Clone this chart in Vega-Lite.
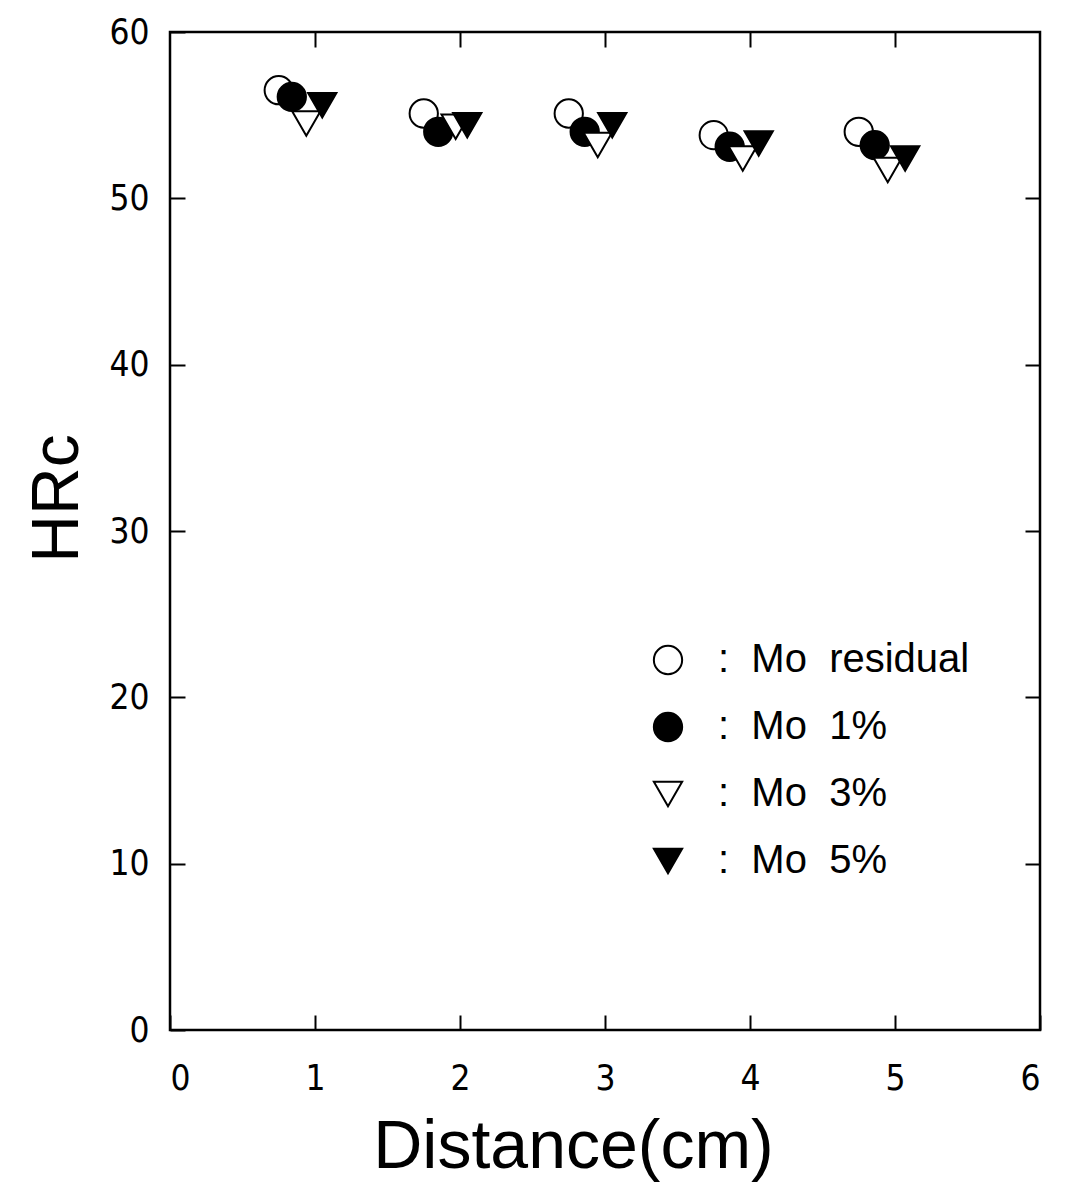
{
  "$schema": "https://vega.github.io/schema/vega-lite/v6.json",
  "width": 870,
  "height": 998,
  "autosize": "none",
  "padding": {"left": 170, "top": 32, "right": 25, "bottom": 153},
  "background": "white",
  "config": {
    "view": {"stroke": "black", "strokeWidth": 2.5},
    "font": "Liberation Sans",
    "axis": {"grid": false, "domain": false, "tickColor": "black", "tickWidth": 2, "tickSize": -15, "labelColor": "black", "titleColor": "black", "labelFont": "'DejaVu Sans Condensed', 'Liberation Sans'", "labelFontSize": 35, "titleFont": "Liberation Sans", "titleFontWeight": "normal"},
    "legend": {"title": null, "orient": "none", "legendX": 478, "legendY": 608, "labelFontSize": 40, "labelFont": "Liberation Sans", "labelColor": "black", "labelLimit": 600, "symbolSize": 800, "symbolStrokeColor": "black", "symbolStrokeWidth": 2, "symbolOpacity": 1, "rowPadding": 27, "labelOffset": 30}
  },
  "data": {
    "values": [
      {"series": "Mo residual", "distance": 0.75, "hrc": 56.5},
      {"series": "Mo residual", "distance": 1.75, "hrc": 55.1},
      {"series": "Mo residual", "distance": 2.75, "hrc": 55.1},
      {"series": "Mo residual", "distance": 3.75, "hrc": 53.8},
      {"series": "Mo residual", "distance": 4.75, "hrc": 54.0},
      {"series": "Mo 1%", "distance": 0.84, "hrc": 56.1},
      {"series": "Mo 1%", "distance": 1.85, "hrc": 54.0},
      {"series": "Mo 1%", "distance": 2.86, "hrc": 54.0},
      {"series": "Mo 1%", "distance": 3.86, "hrc": 53.1},
      {"series": "Mo 1%", "distance": 4.86, "hrc": 53.2},
      {"series": "Mo 3%", "distance": 0.94, "hrc": 54.5},
      {"series": "Mo 3%", "distance": 1.97, "hrc": 54.3},
      {"series": "Mo 3%", "distance": 2.95, "hrc": 53.2},
      {"series": "Mo 3%", "distance": 3.95, "hrc": 52.4},
      {"series": "Mo 3%", "distance": 4.95, "hrc": 51.7},
      {"series": "Mo 5%", "distance": 1.05, "hrc": 55.6},
      {"series": "Mo 5%", "distance": 2.05, "hrc": 54.4},
      {"series": "Mo 5%", "distance": 3.05, "hrc": 54.4},
      {"series": "Mo 5%", "distance": 4.06, "hrc": 53.3},
      {"series": "Mo 5%", "distance": 5.07, "hrc": 52.4}
    ]
  },
  "layer": [
    {
      "mark": {"type": "point", "filled": true, "strokeWidth": 2, "size": 800, "opacity": 1},
      "encoding": {
        "x": {"field": "distance", "type": "quantitative", "scale": {"domain": [0, 6], "nice": false}, "axis": {"values": [0, 1, 2, 3, 4, 5, 6], "title": "Distance(cm)", "titleFontSize": 68, "labelPadding": 46, "titleX": 403, "titleY": 137, "titleBaseline": "alphabetic", "titleAlign": "center"}},
        "y": {"field": "hrc", "type": "quantitative", "scale": {"domain": [0, 60], "nice": false}, "axis": {"values": [0, 10, 20, 30, 40, 50, 60], "title": "HRc", "titleFontSize": 66, "labelPadding": 36, "titleX": -93, "titleY": 466, "titleAngle": 270, "titleBaseline": "alphabetic", "titleAlign": "center"}},
        "shape": {"field": "series", "type": "nominal", "sort": ["Mo residual", "Mo 1%", "Mo 3%", "Mo 5%"], "scale": {"domain": ["Mo residual", "Mo 1%", "Mo 3%", "Mo 5%"], "range": ["circle", "circle", "triangle-down", "triangle-down"]}, "legend": {"labelExpr": "':\u00a0 ' + replace(datum.label, ' ', '\u00a0 ')"}},
        "fill": {"field": "series", "type": "nominal", "sort": ["Mo residual", "Mo 1%", "Mo 3%", "Mo 5%"], "scale": {"domain": ["Mo residual", "Mo 1%", "Mo 3%", "Mo 5%"], "range": ["white", "black", "white", "black"]}, "legend": {"labelExpr": "':\u00a0 ' + replace(datum.label, ' ', '\u00a0 ')"}},
        "stroke": {"field": "series", "type": "nominal", "sort": ["Mo residual", "Mo 1%", "Mo 3%", "Mo 5%"], "scale": {"domain": ["Mo residual", "Mo 1%", "Mo 3%", "Mo 5%"], "range": ["black", "black", "black", "black"]}, "legend": {"labelExpr": "':\u00a0 ' + replace(datum.label, ' ', '\u00a0 ')"}}
      }
    },
    {
      "mark": {"type": "point", "opacity": 0},
      "encoding": {
        "x": {"field": "distance", "type": "quantitative", "scale": {"domain": [0, 6], "nice": false}, "axis": {"orient": "top", "values": [1, 2, 3, 4, 5], "labels": false, "title": null}},
        "y": {"field": "hrc", "type": "quantitative", "scale": {"domain": [0, 60], "nice": false}, "axis": {"orient": "right", "values": [10, 20, 30, 40, 50], "labels": false, "title": null}}
      }
    }
  ],
  "resolve": {"axis": {"x": "independent", "y": "independent"}}
}
